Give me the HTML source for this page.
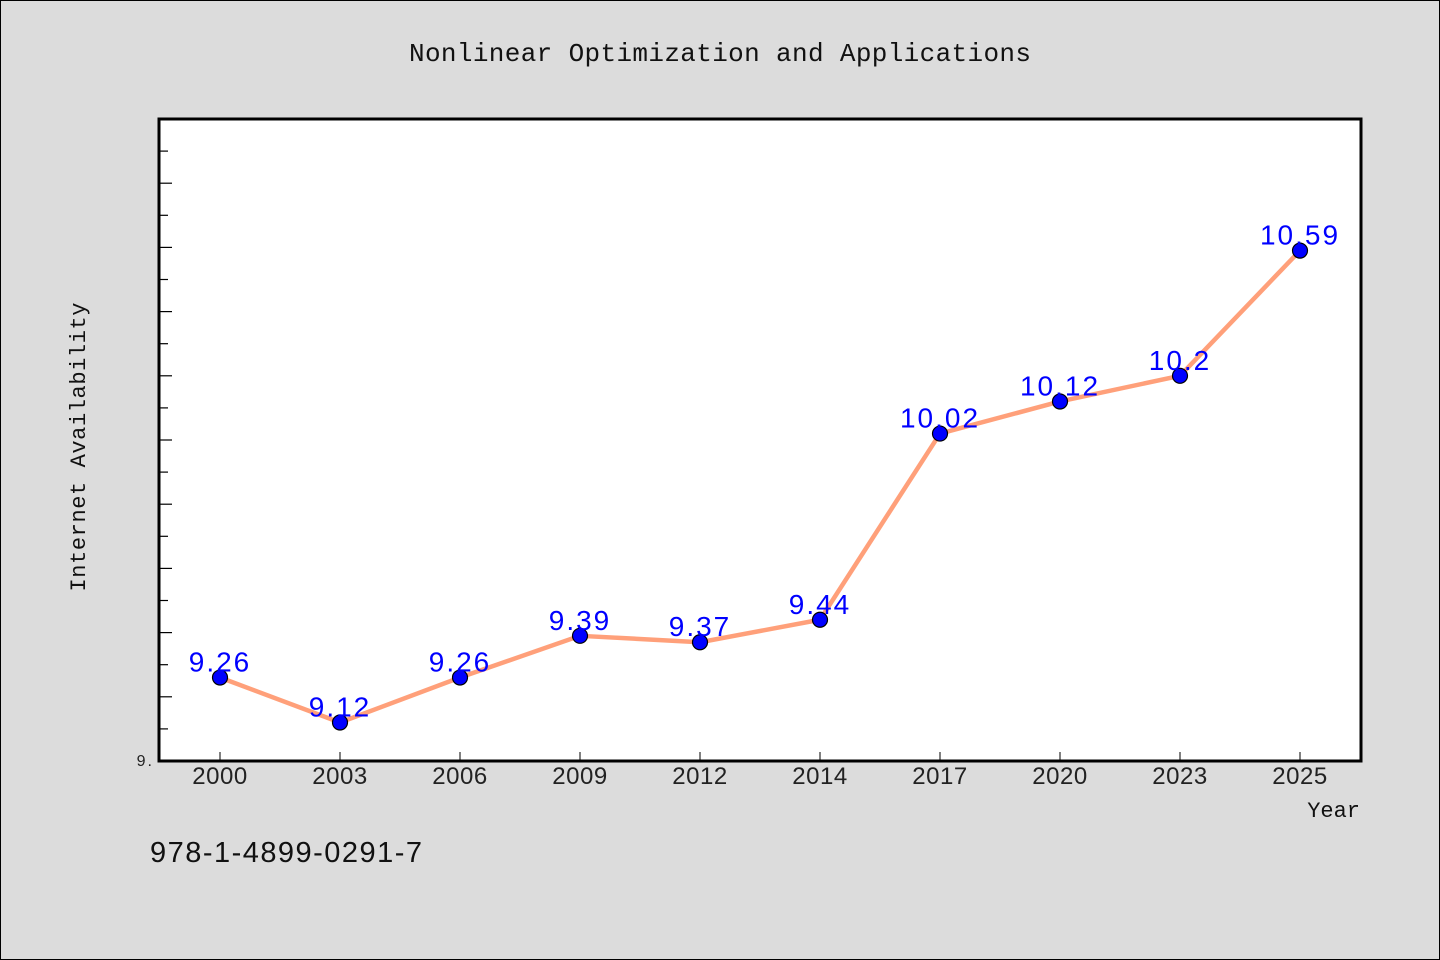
<!DOCTYPE html>
<html><head><meta charset="utf-8"><style>
html,body{margin:0;padding:0;background:#dcdcdc;}
svg{display:block;font-family:"Liberation Sans",sans-serif;}
.mono{font-family:"Liberation Mono",monospace;}
</style></head><body>
<svg id="chart" width="1440" height="960" xmlns="http://www.w3.org/2000/svg">
<rect x="0.5" y="0.5" width="1439" height="959" fill="#dcdcdc" stroke="#000"/>
<text class="mono" x="720" y="61" text-anchor="middle" font-size="26" fill="#111" textLength="622" lengthAdjust="spacing">Nonlinear Optimization and Applications</text>
<rect x="159" y="119" width="1202" height="642" fill="#fff" stroke="#000" stroke-width="3"/>
<g id="yticks"></g><g id="xticks"></g>
<text class="mono" transform="translate(85,447) rotate(-90)" text-anchor="middle" font-size="22" fill="#111" textLength="289" lengthAdjust="spacing">Internet Availability</text>
<text class="mono" x="1360" y="817" text-anchor="end" font-size="22" fill="#111">Year</text>
<text x="150" y="862" font-size="29" fill="#111" textLength="272" lengthAdjust="spacing">978-1-4899-0291-7</text>
<g id="series"></g>
</svg>
<script>
const categories=["2000","2003","2006","2009","2012","2014","2017","2020","2023","2025"];
const values=[9.26,9.12,9.26,9.39,9.37,9.44,10.02,10.12,10.2,10.59];
const valueLabels=["9.26","9.12","9.26","9.39","9.37","9.44","10.02","10.12","10.2","10.59"];
const yMin=9,yMax=11;
const NS="http://www.w3.org/2000/svg";
const X0=159,X1=1361,Y0=761,Y1=119;
function xs(i){return 220+i*(1300-220)/(categories.length-1);}
function ys(v){return Y0-(v-yMin)/(yMax-yMin)*(Y0-Y1);}
function mk(t,a,p){const e=document.createElementNS(NS,t);for(const k in a)e.setAttribute(k,a[k]);p.appendChild(e);return e;}
const yt=document.getElementById('yticks');
for(let k=1;k<20;k++){
  const v=yMin+k*0.1,y=ys(v);
  const l=mk('line',{x1:X0,x2:X0+(k%2===0?13:9),y1:y,y2:y,stroke:'#000','stroke-width':1.2},yt);
  
  
}
const y0l=mk('text',{x:154,y:Y0+5,'text-anchor':'end','font-size':16,fill:'#222','letter-spacing':2},yt);
y0l.textContent="9.";


const xt=document.getElementById('xticks');
categories.forEach((c,i)=>{
  const x=xs(i);
  const l=mk('line',{x1:x,x2:x,y1:Y0,y2:Y0-9,stroke:'#000','stroke-width':1},xt);
  
  
  const t=mk('text',{x:x,y:784,'text-anchor':'middle','font-size':24,fill:'#222','letter-spacing':0.5},xt);
  t.textContent=c;
  
  
});
const s=document.getElementById('series');
const pts=values.map((v,i)=>xs(i)+','+ys(v)).join(' ');
const pl=mk('polyline',{points:pts,fill:'none',stroke:'#ffa07a','stroke-width':4.5,'stroke-linejoin':'round'},s);


values.forEach((v,i)=>{
  const c=mk('circle',{cx:xs(i),cy:ys(v),r:7.5,fill:'#0000ff',stroke:'#000','stroke-width':1.2},s);
  
  
  const t=mk('text',{x:xs(i),y:ys(v)-6,'text-anchor':'middle','font-size':28,fill:'#0000ff','letter-spacing':2},s);
  t.textContent=valueLabels[i];
  
  
});
</script>
</body></html>
